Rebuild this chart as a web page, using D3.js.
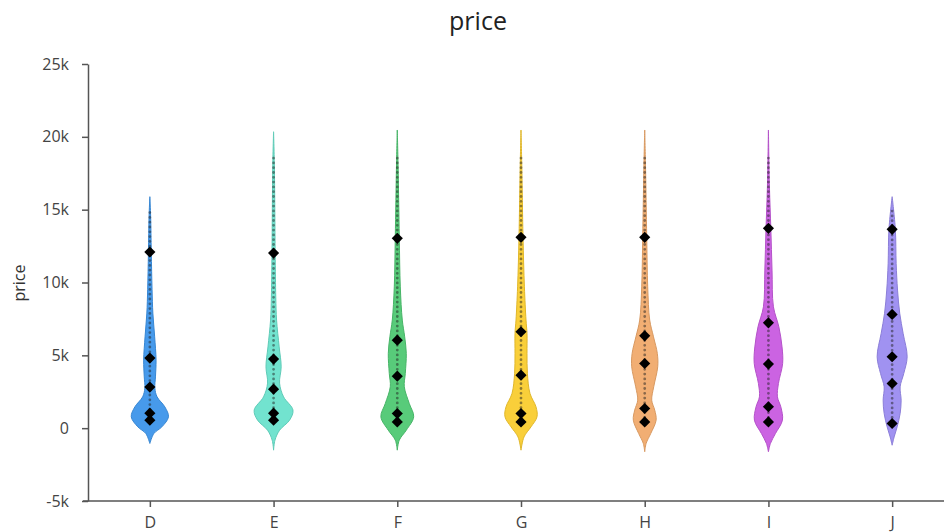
<!DOCTYPE html>
<html>
<head>
<meta charset="utf-8">
<script src="https://cdn.jsdelivr.net/npm/d3@7"></script>
<style>
  body { margin: 0; background: #fff; font-family: "Open Sans", "Noto Sans", sans-serif; }
  svg text { font-family: "Open Sans", "Noto Sans", sans-serif; }
</style>
</head>
<body>
<svg id="chart" width="944" height="532"></svg>
<script>
// categories (diamond colour) and their fills
const categories = ["D", "E", "F", "G", "H", "I", "J"];
const colors = ["#3d95ea", "#6ae2cc", "#4fc873", "#f9cc2f", "#f0aa6c", "#c85be0", "#9b8cf0"];

// violin outlines: [price, relative density]
const violinD = [[15890,0],[14500,0.04],[12110,0.07],[9500,0.11],[7900,0.15],[6270,0.24],[4670,0.31],[3520,0.28],[2750,0.25],[2150,0.36],[1460,0.75],[780,0.93],[90,0.6],[-370,0.2],[-1050,0]];
const violinE = [[20350,0],[18000,0.04],[12020,0.08],[9000,0.11],[7420,0.15],[5580,0.28],[4210,0.38],[3090,0.3],[2150,0.5],[1240,0.97],[550,0.8],[-140,0.3],[-820,0.07],[-1510,0]];
const violinF = [[20470,0],[18000,0.04],[13140,0.1],[9700,0.15],[7420,0.25],[6270,0.37],[5130,0.45],[3750,0.4],[2840,0.35],[1690,0.6],[780,0.82],[-140,0.45],[-820,0.1],[-1510,0]];
const violinG = [[20470,0],[18000,0.04],[13140,0.1],[9700,0.17],[7420,0.25],[6500,0.3],[5130,0.3],[3750,0.32],[2380,0.45],[1460,0.75],[780,0.8],[90,0.5],[-600,0.15],[-1510,0]];
const violinH = [[20470,0],[18000,0.04],[13140,0.1],[9700,0.15],[7420,0.25],[6270,0.44],[5130,0.63],[4210,0.65],[2840,0.45],[1920,0.35],[1240,0.5],[550,0.57],[-370,0.3],[-1050,0.07],[-1620,0]];
const violinI = [[20470,0],[16580,0.05],[13715,0.12],[10850,0.18],[8330,0.25],[6960,0.52],[5580,0.68],[4440,0.71],[3070,0.5],[2150,0.45],[1460,0.62],[550,0.7],[-370,0.35],[-1050,0.1],[-1620,0]];
const violinJ = [[15890,0],[13650,0.16],[11310,0.2],[9480,0.27],[7880,0.38],[6500,0.55],[4900,0.75],[3750,0.58],[2840,0.4],[1920,0.45],[1010,0.4],[90,0.25],[-600,0.1],[-1170,0]];
const violins = [violinD, violinE, violinF, violinG, violinH, violinI, violinJ];

// black diamond markers (price)
const markersD = [12090, 4810, 2820, 1030, 550];
const markersE = [12020, 4740, 2680, 1030, 550];
const markersF = [13030, 6040, 3570, 1010, 430];
const markersG = [13100, 6620, 3640, 1010, 430];
const markersH = [13100, 6340, 4440, 1350, 430];
const markersI = [13720, 7230, 4400, 1470, 430];
const markersJ = [13650, 7810, 4900, 3070, 320];
const markers = [markersD, markersE, markersF, markersG, markersH, markersI, markersJ];

// extent of the dotted centre line [low, high]
const dotRanges = [[330, 14800], [330, 18540], [330, 18540], [330, 18540], [330, 18540], [330, 18540], [330, 14900]];

const yTicks = [-5000, 0, 5000, 10000, 15000, 20000, 25000];
const yTickLabels = ["-5k", "0", "5k", "10k", "15k", "20k", "25k"];

const svg = d3.select("#chart");
const axisColor = "#555";

const x = d3.scalePoint().domain(categories).range([88, 954]).padding(0.5);
const y = d3.scaleLinear().domain([-5000, 25000]).range([501, 64]);
const w = d3.scaleLinear().domain([0, 1]).range([0, 20]);

// title
svg.append("text")
  .attr("x", 478).attr("y", 30)
  .attr("text-anchor", "middle")
  .attr("font-size", 25)
  .attr("fill", "#222")
  .text("price");

// y label
svg.append("text")
  .attr("transform", "translate(25,283) rotate(-90)")
  .attr("text-anchor", "middle")
  .attr("font-size", 16)
  .attr("fill", "#333")
  .text("price");

// violins
categories.forEach((c, i) => {
  const cx = x(c);
  const area = d3.area()
    .x0(d => cx - w(d[1]))
    .x1(d => cx + w(d[1]))
    .y(d => y(d[0]))
    .curve(d3.curveCatmullRom);
  svg.append("path")
    .datum(violins[i])
    .attr("d", area)
    .attr("fill", colors[i])
    .attr("fill-opacity", 0.95)
    .attr("stroke", d3.color(colors[i]).darker(0.3))
    .attr("stroke-width", 1);

  // dotted centre line
  svg.append("line")
    .attr("x1", cx).attr("x2", cx)
    .attr("y1", y(dotRanges[i][1])).attr("y2", y(dotRanges[i][0]))
    .attr("stroke", "#222")
    .attr("stroke-opacity", 0.5)
    .attr("stroke-width", 2.8)
    .attr("stroke-linecap", "round")
    .attr("stroke-dasharray", "0,4.8");

  svg.append("g").selectAll("path")
    .data(markers[i])
    .join("path")
    .attr("d", d3.symbol(d3.symbolSquare, 62)())
    .attr("transform", d => `translate(${cx},${y(d)}) rotate(45)`)
    .attr("fill", "#000");
});

// y axis
const yAxis = svg.append("g")
  .attr("transform", "translate(88,0)")
  .call(d3.axisLeft(y).tickValues(yTicks).tickFormat((d, i) => yTickLabels[i]).tickSize(6).tickSizeOuter(0).tickPadding(13));
yAxis.select(".domain").attr("stroke", axisColor).attr("stroke-width", 1.5);
yAxis.selectAll(".tick line").attr("stroke", axisColor).attr("stroke-width", 1.5);
yAxis.selectAll(".tick text").attr("font-size", 16).attr("fill", "#444");

// x axis
const xAxis = svg.append("g")
  .attr("transform", "translate(0,501)")
  .call(d3.axisBottom(x).tickSize(6).tickSizeOuter(0).tickPadding(10));
xAxis.select(".domain").attr("d", "M83,0H944").attr("stroke", axisColor).attr("stroke-width", 1.5);
xAxis.selectAll(".tick line").attr("stroke", axisColor).attr("stroke-width", 1.5);
xAxis.selectAll(".tick text").attr("font-size", 16).attr("fill", "#444");
</script>
</body>
</html>
